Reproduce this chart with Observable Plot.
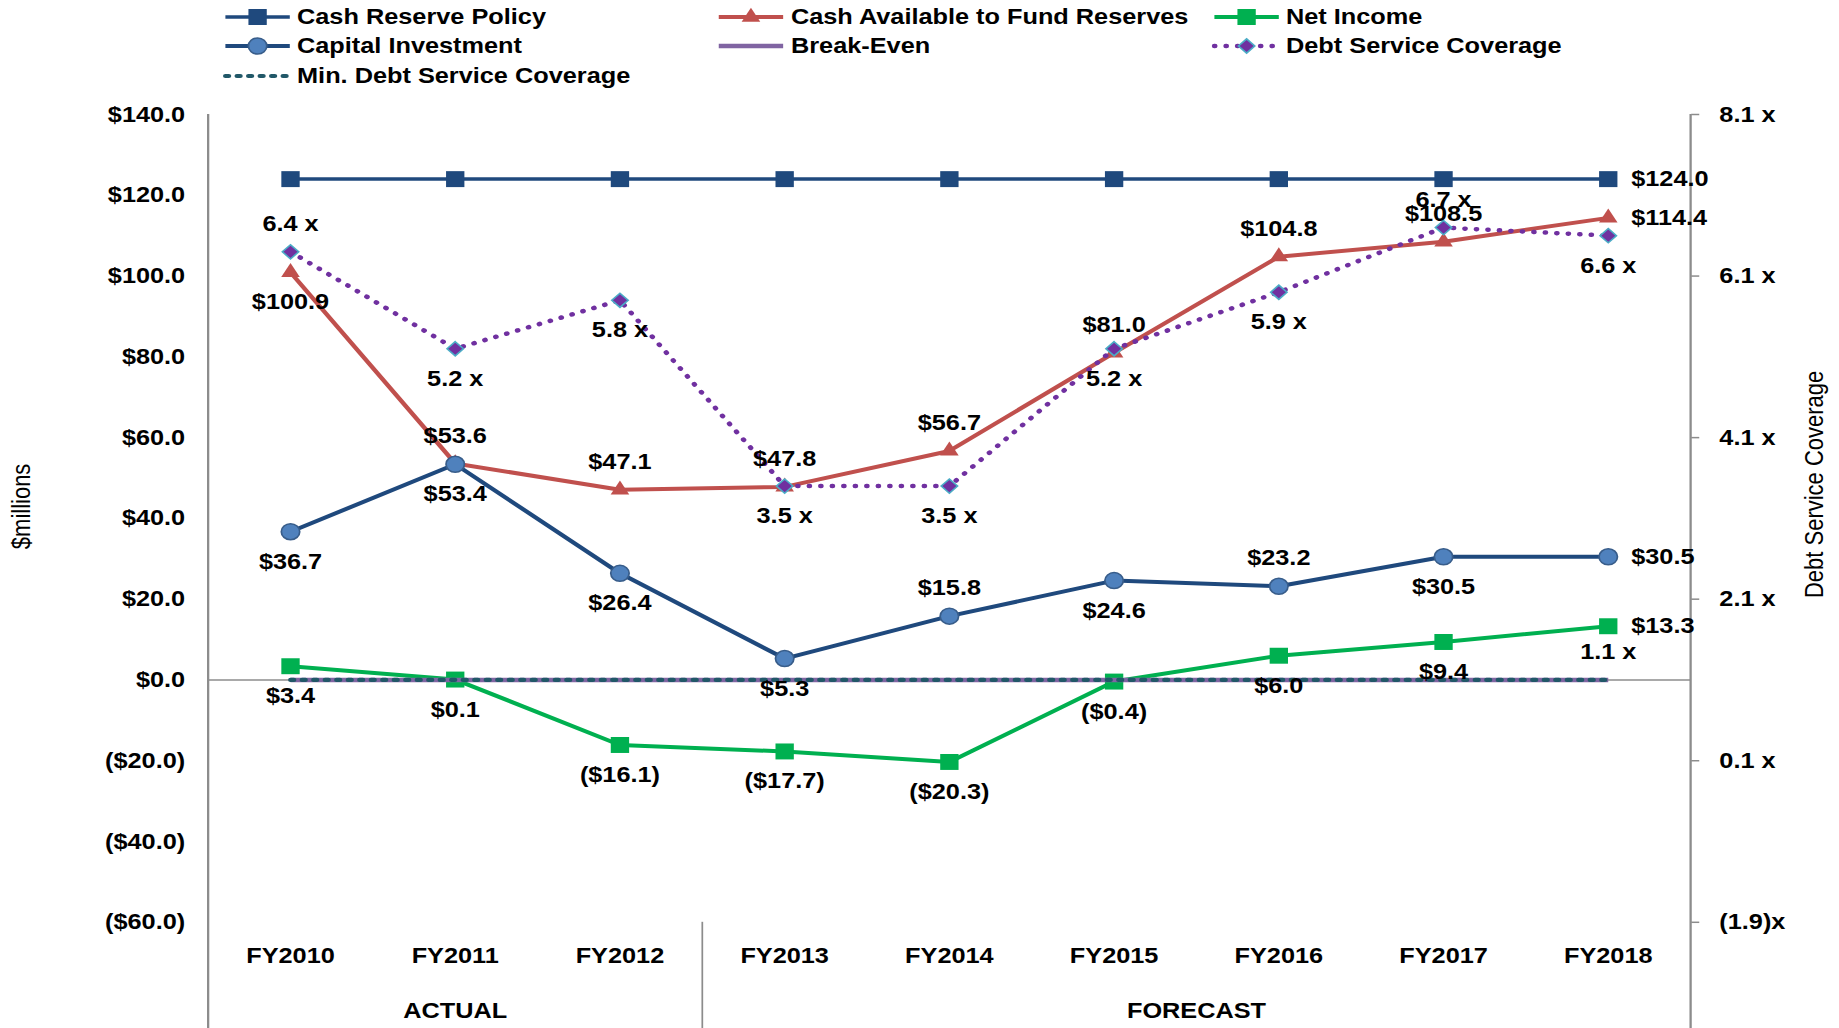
<!DOCTYPE html>
<html>
<head>
<meta charset="utf-8">
<script src="https://cdn.jsdelivr.net/npm/d3@7"></script>
<script src="https://cdn.jsdelivr.net/npm/@observablehq/plot@0.6"></script>
<style>
  html, body { margin: 0; padding: 0; background: #fff; overflow: hidden; }
  #wrap {
    position: relative; width: 1599px; height: 1028px;
    transform: scale(1.15, 1); transform-origin: 0 0;
    font-family: "Liberation Sans", Arial, sans-serif;
  }
  #legend {
    height: 90px; box-sizing: border-box; padding-left: 195.7px; padding-top: 2px;
    display: grid; grid-template-columns: 429.5px 430.5px auto; grid-auto-rows: 29.5px;
  }
  .item { display: flex; align-items: center; font-weight: bold; font-size: 22px; color: #000; white-space: nowrap; }
  .item svg { margin-right: 6.6px; overflow: visible; }
</style>
</head>
<body>
<div id="wrap"><div id="legend"></div><div id="chart"></div></div>
<script>
// ---------------- data ----------------
const years = ["FY2010", "FY2011", "FY2012", "FY2013", "FY2014", "FY2015", "FY2016", "FY2017", "FY2018"];
const cashReservePolicy = [124.0, 124.0, 124.0, 124.0, 124.0, 124.0, 124.0, 124.0, 124.0];
const cashAvailable = [100.9, 53.6, 47.1, 47.8, 56.7, 81.0, 104.8, 108.5, 114.4];
const netIncome = [3.4, 0.1, -16.1, -17.7, -20.3, -0.4, 6.0, 9.4, 13.3];
const capitalInvestment = [36.7, 53.4, 26.4, 5.3, 15.8, 24.6, 23.2, 30.5, 30.5];
const breakEven = [0, 0, 0, 0, 0, 0, 0, 0, 0];
const debtServiceCoverage = [6.4, 5.2, 5.8, 3.5, 3.5, 5.2, 5.9, 6.7, 6.6];
const minDebtServiceCoverage = [1.1, 1.1, 1.1, 1.1, 1.1, 1.1, 1.1, 1.1, 1.1];
const leftTicks = [-60, -40, -20, 0, 20, 40, 60, 80, 100, 120, 140];
const rightTicks = [-1.9, 0.1, 2.1, 4.1, 6.1, 8.1];
const periods = [
  {name: "ACTUAL", first: 0, last: 2},
  {name: "FORECAST", first: 3, last: 8}
];

// secondary axis (coverage) <-> primary axis ($millions): [-1.9, 8.1] <-> [-60, 140]
const toLeft = r => (r - 1.1) * 20;
const fromLeft = v => v / 20 + 1.1;

const fmtMoney = v => v < 0 ? `($${(-v).toFixed(1)})` : `$${v.toFixed(1)}`;
const fmtCov = r => (r < -1e-9) ? `(${(-r).toFixed(1)})x` : `${Math.abs(r).toFixed(1)} x`;

// ---------------- styles / label placement ----------------
const FONT = '"Liberation Sans", Arial, sans-serif';
const series = [
  {name: "Cash Reserve Policy", values: cashReservePolicy, secondary: false, fmt: fmtMoney,
   stroke: "#1F497D", strokeWidth: 3.5, symbol: "square", r: 9, fill: "#1F497D", mstroke: "none",
   place: ["", "", "", "", "", "", "", "", "right"]},
  {name: "Cash Available to Fund Reserves", values: cashAvailable, secondary: false, fmt: fmtMoney,
   stroke: "#C0504D", strokeWidth: 4, symbol: "triangle", r: 6, fill: "#C0504D", mstroke: "none",
   place: ["below", "above", "above", "above", "above", "above", "above", "above", "right"]},
  {name: "Net Income", values: netIncome, secondary: false, fmt: fmtMoney,
   stroke: "#00B050", strokeWidth: 4, symbol: "square", r: 9, fill: "#00B050", mstroke: "none",
   place: ["below", "below", "below", "below", "below", "below", "below", "below", "right"]},
  {name: "Capital Investment", values: capitalInvestment, secondary: false, fmt: fmtMoney,
   stroke: "#1F497D", strokeWidth: 4, symbol: "circle", r: 8, fill: "#4F81BD", mstroke: "#385D8A",
   place: ["below", "below", "below", "below", "above", "below", "above", "below", "right"]},
  {name: "Break-Even", values: breakEven, secondary: false, fmt: fmtMoney,
   stroke: "#8064A2", strokeWidth: 4.5, symbol: null,
   place: ["", "", "", "", "", "", "", "", ""]},
  {name: "Debt Service Coverage", values: debtServiceCoverage, secondary: true, fmt: fmtCov,
   stroke: "#7030A0", strokeWidth: 4.5, dash: "0.5,9.5", cap: "round", symbol: "diamond2", r: 6.4, fill: "#7030A0", mstroke: "#4BACC6",
   place: ["above", "below", "below", "below", "below", "below", "below", "above", "below"]},
  {name: "Min. Debt Service Coverage", values: minDebtServiceCoverage, secondary: true, fmt: fmtCov,
   stroke: "#215868", strokeWidth: 4.2, dash: "3,7", cap: "round", symbol: null,
   place: ["", "", "", "", "", "", "", "", "above"]}
];

// ---------------- layout ----------------
const W = 1599, H = 938;
const mL = 180.5, mR = 129.4, mT = 24, mB = 106.2;
const plotH = H - mT - mB;
const xDomain = [-0.5, years.length - 0.5];
const GRAY = "#8c8c8c";
const textStyle = {fontFamily: FONT, fontSize: 22, fontWeight: "bold", fill: "#000"};

const marks = [];
// zero line
marks.push(Plot.ruleY([0], {stroke: GRAY, strokeWidth: 1.5}));
// axis lines extending to the bottom of the picture
marks.push(Plot.ruleX(xDomain, {stroke: GRAY, strokeWidth: 2, insetBottom: -mB}));
// period separator
marks.push(Plot.ruleX([periods[0].last + 0.5], {stroke: GRAY, strokeWidth: 1.5, insetTop: plotH, insetBottom: -mB}));

const labelMarks = [];
for (const s of series) {
  const data = s.values.map((v, i) => ({i, v, y: s.secondary ? toLeft(v) : v}));
  marks.push(Plot.line(data, {
    x: "i", y: "y", stroke: s.stroke, strokeWidth: s.strokeWidth,
    strokeDasharray: s.dash, strokeLinecap: s.cap || "butt", strokeLinejoin: "round"
  }));
  if (s.symbol) {
    marks.push(Plot.dot(data, {
      x: "i", y: "y", symbol: s.symbol, r: s.r, fill: s.fill,
      stroke: s.mstroke, strokeWidth: s.mstroke === "none" ? 0 : 1.5
    }));
  }
  const pick = p => data.filter(d => s.place[d.i] === p);
  labelMarks.push(Plot.text(pick("above"), {x: "i", y: "y", text: d => s.fmt(d.v), dy: -28, ...textStyle}));
  labelMarks.push(Plot.text(pick("below"), {x: "i", y: "y", text: d => s.fmt(d.v), dy: 30, ...textStyle}));
  labelMarks.push(Plot.text(pick("right"), {x: "i", y: "y", text: d => s.fmt(d.v), dx: 20, textAnchor: "start", ...textStyle}));
}
marks.push(...labelMarks);

// axes
marks.push(Plot.axisY(leftTicks, {anchor: "left", label: null, tickSize: 0, tickPadding: 20, tickFormat: fmtMoney, stroke: GRAY}));
marks.push(Plot.axisY(rightTicks.map(toLeft), {anchor: "right", label: null, tickSize: 7, tickPadding: 18, strokeWidth: 1.5,
  tickFormat: d => fmtCov(fromLeft(d)), stroke: GRAY}));
marks.push(Plot.axisX(d3.range(years.length), {anchor: "bottom", label: null, tickSize: 0, tickPadding: 25, tickFormat: i => years[i]}));
// period labels
marks.push(Plot.text(periods, {x: d => (d.first + d.last) / 2, frameAnchor: "bottom", lineAnchor: "middle", dy: 89, text: "name", ...textStyle}));
// axis titles
marks.push(Plot.text(["$millions"], {frameAnchor: "left", textAnchor: "middle", lineAnchor: "middle", dx: -162, dy: -12, rotate: -90, text: d => d,
  fontFamily: FONT, fontSize: 22, fontWeight: "normal", fill: "#000"}));
marks.push(Plot.text(["Debt Service Coverage"], {frameAnchor: "right", textAnchor: "middle", lineAnchor: "middle", dx: 108, dy: -34, rotate: -90, text: d => d,
  fontFamily: FONT, fontSize: 22, fontWeight: "normal", fill: "#000"}));

const chart = Plot.plot({
  width: W, height: H,
  marginLeft: mL, marginRight: mR, marginTop: mT, marginBottom: mB,
  x: {type: "linear", domain: xDomain, axis: null, label: null},
  y: {type: "linear", domain: [leftTicks[0], leftTicks[leftTicks.length - 1]], axis: null, label: null},
  style: {fontFamily: FONT, fontSize: "22px", fontWeight: "bold", color: "#000", background: "#fff", overflow: "visible"},
  marks
});
document.getElementById("chart").appendChild(chart);

// ---------------- legend ----------------
const symbolTypes = {square: d3.symbolSquare, triangle: d3.symbolTriangle, circle: d3.symbolCircle, diamond2: d3.symbolDiamond2};
const legend = d3.select("#legend");
for (const s of series) {
  const item = legend.append("div").attr("class", "item");
  const svg = item.append("svg").attr("width", 56).attr("height", 20);
  svg.append("line").attr("x1", 0).attr("x2", 56).attr("y1", 10).attr("y2", 10)
    .attr("stroke", s.stroke).attr("stroke-width", s.strokeWidth)
    .attr("stroke-dasharray", s.dash || null).attr("stroke-linecap", s.cap || "butt");
  if (s.symbol) {
    svg.append("path").attr("transform", "translate(28,10)")
      .attr("d", d3.symbol().type(symbolTypes[s.symbol]).size(Math.PI * s.r * s.r)())
      .attr("fill", s.fill).attr("stroke", s.mstroke).attr("stroke-width", s.mstroke === "none" ? 0 : 1.5);
  }
  item.append("span").text(s.name);
}
</script>
</body>
</html>
